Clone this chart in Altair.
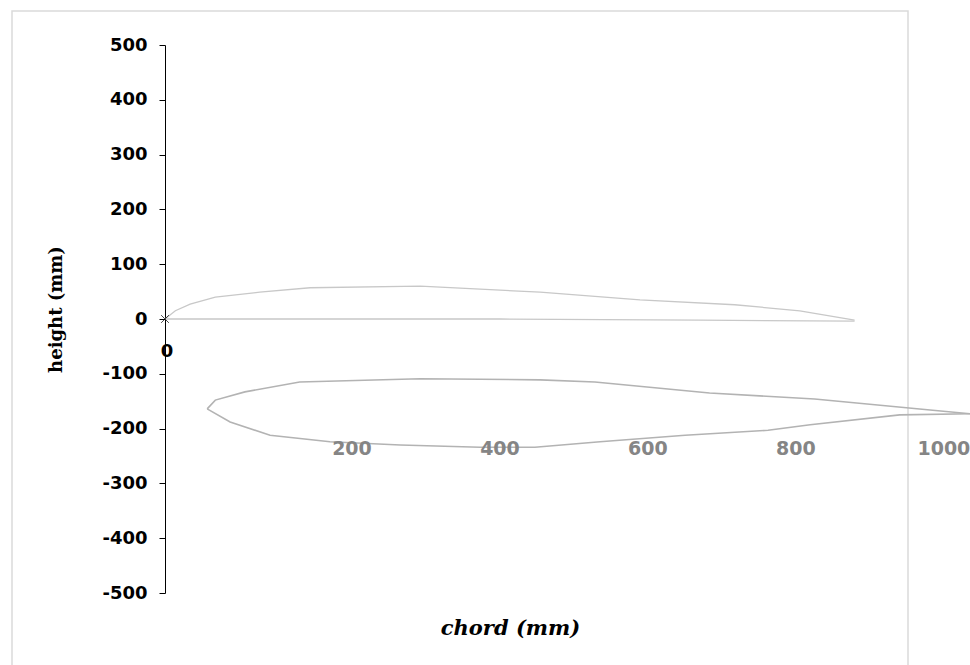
import altair as alt
import pandas as pd

# Upper airfoil (original section): upper and lower surfaces
up_upper_x = [0, 14, 34, 68, 128, 196, 345, 507, 642, 770, 858, 932]
up_upper_y = [0, 15, 27, 40, 49, 57, 60, 49, 35, 26, 15, -2]
up_lower_x = [0, 182, 453, 723, 932]
up_lower_y = [0, 0, 0, -2, -4]

# Lower airfoil (displaced section)
lo_upper_x = [57, 68, 108, 182, 345, 507, 581, 736, 878, 1034, 1088]
lo_upper_y = [-164, -148, -133, -115, -109, -111, -115, -135, -146, -166, -173]
lo_lower_x = [57, 88, 142, 223, 318, 426, 500, 588, 703, 815, 872, 993, 1088]
lo_lower_y = [-164, -188, -212, -224, -230, -234, -234, -224, -212, -203, -193, -175, -173]

x_tick_values = [200, 400, 600, 800, 1000]
y_tick_values = [-500, -400, -300, -200, -100, 0, 100, 200, 300, 400, 500]


def surface(name, xs, ys):
    return pd.DataFrame({"x": xs, "y": ys, "part": name, "o": list(range(len(xs)))})


upper_df = pd.concat([surface("u_up", up_upper_x, up_upper_y),
                      surface("u_lo", up_lower_x, up_lower_y)])
lower_df = pd.concat([surface("l_up", lo_upper_x, lo_upper_y),
                      surface("l_lo", lo_lower_x, lo_lower_y)])
labels_df = pd.DataFrame({"x": x_tick_values, "t": [str(v) for v in x_tick_values]})

X = alt.X("x:Q",
          scale=alt.Scale(domain=[0, 1088], nice=False, zero=False),
          axis=alt.Axis(labels=False, ticks=False, domain=False, grid=False,
                        title="chord (mm)", titleFont="DejaVu Serif",
                        titleFontStyle="italic", titleFontWeight="bold",
                        titleFontSize=21, titleColor="black",
                        titleX=345, titleY=35, titleBaseline="middle"))
Y = alt.Y("y:Q",
          scale=alt.Scale(domain=[-500, 500], nice=False, zero=False),
          axis=alt.Axis(values=y_tick_values, grid=False, domainColor="black",
                        tickColor="black", tickSize=6, labelFont="DejaVu Sans",
                        labelFontWeight="bold", labelFontSize=18, labelColor="black",
                        labelPadding=12, labelFlush=False, labelOverlap=False,
                        labelExpr="'' + datum.value",
                        title="height (mm)", titleFont="DejaVu Serif",
                        titleFontWeight="bold", titleFontSize=18, titleColor="black",
                        titleX=-100, titleY=264, titleBaseline="bottom"))

upper = alt.Chart(upper_df).mark_line(color="#c8c8c8", strokeWidth=1.3).encode(
    x=X, y=Y, detail="part:N", order="o:Q")
lower = alt.Chart(lower_df).mark_line(color="#b3b3b3", strokeWidth=1.6).encode(
    x=X, y=Y, detail="part:N", order="o:Q")

xlabels = alt.Chart(labels_df).mark_text(
    font="DejaVu Sans", fontWeight="bold", fontSize=19, color="#858585",
    dx=39, baseline="middle").encode(x=X, y=alt.datum(-238), text="t:N")

zero_label = alt.Chart(pd.DataFrame({"x": [0], "t": ["0"]})).mark_text(
    font="DejaVu Sans", fontWeight="bold", fontSize=18, color="black",
    dx=2, baseline="middle").encode(x=X, y=alt.datum(-60), text="t:N")

origin = alt.Chart(pd.DataFrame({"x": [0], "y": [0]})).mark_point(
    shape="M-1,-1L1,1M-1,1L1,-1", size=60, filled=False, color="black",
    strokeWidth=1).encode(x=X, y=Y)

frame = alt.Chart(alt.Data(values=[{"a": 1}])).mark_rect(
    fill=None, stroke="#dadada", strokeWidth=1.5).encode(
    x=alt.value(-153), x2=alt.value(743), y=alt.value(-34), y2=alt.value(640))

chart = alt.layer(frame, upper, lower, xlabels, zero_label, origin).properties(
    width=805, height=548,
    autosize=alt.AutoSizeParams(type="none"),
    padding={"left": 165, "top": 45, "right": 0, "bottom": 72},
    background="white",
).configure_view(stroke=None)

chart.save("out.html", embed_options={"renderer": "svg", "actions": False})
